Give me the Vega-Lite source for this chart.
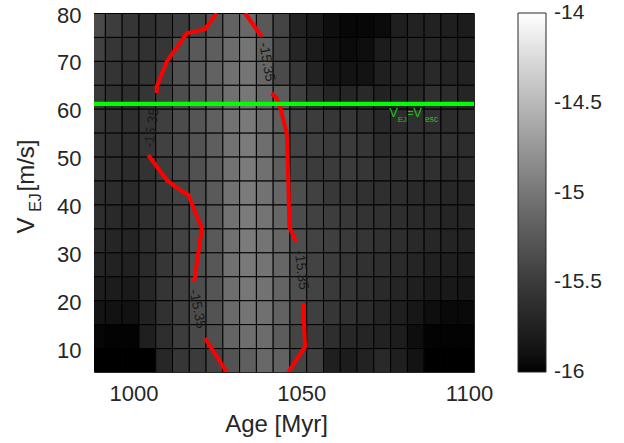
{
"$schema": "https://vega.github.io/schema/vega-lite/v6.json",
"width": 380, "height": 359,
"autosize": {"type": "none"},
"padding": {"left": 94, "top": 13, "right": 150, "bottom": 71},
"background": "white",
"config": {
 "view": {"stroke": "#262626", "strokeWidth": 1},
 "font": "Liberation Sans",
 "axis": {"grid": false, "ticks": false, "domain": false, "labelFont": "Liberation Sans", "titleFont": "Liberation Sans", "labelColor": "#262626", "titleColor": "#262626", "titleFontWeight": "normal", "labelFontSize": 22, "titleFontSize": 24}
},
"datasets": {
"grid": [
{"age":986.5,"vej":75,"z":-15.373},{"age":991.5,"vej":75,"z":-15.482},{"age":996.5,"vej":75,"z":-15.545},{"age":1001.5,"vej":75,"z":-15.608},{"age":1006.5,"vej":75,"z":-15.561},{"age":1011.5,"vej":75,"z":-15.482},{"age":1016.5,"vej":75,"z":-15.404},{"age":1021.5,"vej":75,"z":-15.294},{"age":1026.5,"vej":75,"z":-15.169},{"age":1031.5,"vej":75,"z":-15.122},{"age":1036.5,"vej":75,"z":-15.255},{"age":1041.5,"vej":75,"z":-15.42},{"age":1046.5,"vej":75,"z":-15.733},{"age":1051.5,"vej":75,"z":-15.812},{"age":1056.5,"vej":75,"z":-15.922},{"age":1061.5,"vej":75,"z":-15.961},{"age":1066.5,"vej":75,"z":-15.961},{"age":1071.5,"vej":75,"z":-15.937},{"age":1076.5,"vej":75,"z":-15.765},{"age":1081.5,"vej":75,"z":-15.733},{"age":1086.5,"vej":75,"z":-15.733},{"age":1091.5,"vej":75,"z":-15.765},{"age":1096.5,"vej":75,"z":-15.796},
{"age":986.5,"vej":70,"z":-15.451},{"age":991.5,"vej":70,"z":-15.545},{"age":996.5,"vej":70,"z":-15.569},{"age":1001.5,"vej":70,"z":-15.592},{"age":1006.5,"vej":70,"z":-15.545},{"age":1011.5,"vej":70,"z":-15.325},{"age":1016.5,"vej":70,"z":-15.247},{"age":1021.5,"vej":70,"z":-15.2},{"age":1026.5,"vej":70,"z":-15.09},{"age":1031.5,"vej":70,"z":-15.027},{"age":1036.5,"vej":70,"z":-15.184},{"age":1041.5,"vej":70,"z":-15.42},{"age":1046.5,"vej":70,"z":-15.702},{"age":1051.5,"vej":70,"z":-15.812},{"age":1056.5,"vej":70,"z":-15.898},{"age":1061.5,"vej":70,"z":-15.937},{"age":1066.5,"vej":70,"z":-15.922},{"age":1071.5,"vej":70,"z":-15.796},{"age":1076.5,"vej":70,"z":-15.733},{"age":1081.5,"vej":70,"z":-15.702},{"age":1086.5,"vej":70,"z":-15.702},{"age":1091.5,"vej":70,"z":-15.733},{"age":1096.5,"vej":70,"z":-15.765},
{"age":986.5,"vej":65,"z":-15.514},{"age":991.5,"vej":65,"z":-15.569},{"age":996.5,"vej":65,"z":-15.592},{"age":1001.5,"vej":65,"z":-15.561},{"age":1006.5,"vej":65,"z":-15.451},{"age":1011.5,"vej":65,"z":-15.31},{"age":1016.5,"vej":65,"z":-15.231},{"age":1021.5,"vej":65,"z":-15.169},{"age":1026.5,"vej":65,"z":-15.059},{"age":1031.5,"vej":65,"z":-15.012},{"age":1036.5,"vej":65,"z":-15.137},{"age":1041.5,"vej":65,"z":-15.373},{"age":1046.5,"vej":65,"z":-15.545},{"age":1051.5,"vej":65,"z":-15.733},{"age":1056.5,"vej":65,"z":-15.843},{"age":1061.5,"vej":65,"z":-15.882},{"age":1066.5,"vej":65,"z":-15.882},{"age":1071.5,"vej":65,"z":-15.765},{"age":1076.5,"vej":65,"z":-15.702},{"age":1081.5,"vej":65,"z":-15.702},{"age":1086.5,"vej":65,"z":-15.671},{"age":1091.5,"vej":65,"z":-15.702},{"age":1096.5,"vej":65,"z":-15.733},
{"age":986.5,"vej":60,"z":-15.529},{"age":991.5,"vej":60,"z":-15.592},{"age":996.5,"vej":60,"z":-15.608},{"age":1001.5,"vej":60,"z":-15.561},{"age":1006.5,"vej":60,"z":-15.482},{"age":1011.5,"vej":60,"z":-15.341},{"age":1016.5,"vej":60,"z":-15.263},{"age":1021.5,"vej":60,"z":-15.184},{"age":1026.5,"vej":60,"z":-15.059},{"age":1031.5,"vej":60,"z":-14.996},{"age":1036.5,"vej":60,"z":-15.122},{"age":1041.5,"vej":60,"z":-15.216},{"age":1046.5,"vej":60,"z":-15.467},{"age":1051.5,"vej":60,"z":-15.6},{"age":1056.5,"vej":60,"z":-15.702},{"age":1061.5,"vej":60,"z":-15.702},{"age":1066.5,"vej":60,"z":-15.671},{"age":1071.5,"vej":60,"z":-15.733},{"age":1076.5,"vej":60,"z":-15.702},{"age":1081.5,"vej":60,"z":-15.671},{"age":1086.5,"vej":60,"z":-15.6},{"age":1091.5,"vej":60,"z":-15.639},{"age":1096.5,"vej":60,"z":-15.702},
{"age":986.5,"vej":55,"z":-15.545},{"age":991.5,"vej":55,"z":-15.592},{"age":996.5,"vej":55,"z":-15.608},{"age":1001.5,"vej":55,"z":-15.545},{"age":1006.5,"vej":55,"z":-15.467},{"age":1011.5,"vej":55,"z":-15.357},{"age":1016.5,"vej":55,"z":-15.278},{"age":1021.5,"vej":55,"z":-15.184},{"age":1026.5,"vej":55,"z":-15.043},{"age":1031.5,"vej":55,"z":-14.98},{"age":1036.5,"vej":55,"z":-15.09},{"age":1041.5,"vej":55,"z":-15.2},{"age":1046.5,"vej":55,"z":-15.42},{"age":1051.5,"vej":55,"z":-15.498},{"age":1056.5,"vej":55,"z":-15.545},{"age":1061.5,"vej":55,"z":-15.545},{"age":1066.5,"vej":55,"z":-15.6},{"age":1071.5,"vej":55,"z":-15.671},{"age":1076.5,"vej":55,"z":-15.639},{"age":1081.5,"vej":55,"z":-15.6},{"age":1086.5,"vej":55,"z":-15.6},{"age":1091.5,"vej":55,"z":-15.639},{"age":1096.5,"vej":55,"z":-15.639},
{"age":986.5,"vej":50,"z":-15.561},{"age":991.5,"vej":50,"z":-15.608},{"age":996.5,"vej":50,"z":-15.624},{"age":1001.5,"vej":50,"z":-15.561},{"age":1006.5,"vej":50,"z":-15.451},{"age":1011.5,"vej":50,"z":-15.373},{"age":1016.5,"vej":50,"z":-15.294},{"age":1021.5,"vej":50,"z":-15.2},{"age":1026.5,"vej":50,"z":-15.043},{"age":1031.5,"vej":50,"z":-14.965},{"age":1036.5,"vej":50,"z":-15.075},{"age":1041.5,"vej":50,"z":-15.2},{"age":1046.5,"vej":50,"z":-15.42},{"age":1051.5,"vej":50,"z":-15.467},{"age":1056.5,"vej":50,"z":-15.506},{"age":1061.5,"vej":50,"z":-15.506},{"age":1066.5,"vej":50,"z":-15.545},{"age":1071.5,"vej":50,"z":-15.639},{"age":1076.5,"vej":50,"z":-15.6},{"age":1081.5,"vej":50,"z":-15.6},{"age":1086.5,"vej":50,"z":-15.6},{"age":1091.5,"vej":50,"z":-15.6},{"age":1096.5,"vej":50,"z":-15.639},
{"age":986.5,"vej":45,"z":-15.576},{"age":991.5,"vej":45,"z":-15.624},{"age":996.5,"vej":45,"z":-15.639},{"age":1001.5,"vej":45,"z":-15.576},{"age":1006.5,"vej":45,"z":-15.482},{"age":1011.5,"vej":45,"z":-15.388},{"age":1016.5,"vej":45,"z":-15.31},{"age":1021.5,"vej":45,"z":-15.216},{"age":1026.5,"vej":45,"z":-15.043},{"age":1031.5,"vej":45,"z":-14.965},{"age":1036.5,"vej":45,"z":-15.059},{"age":1041.5,"vej":45,"z":-15.2},{"age":1046.5,"vej":45,"z":-15.42},{"age":1051.5,"vej":45,"z":-15.506},{"age":1056.5,"vej":45,"z":-15.506},{"age":1061.5,"vej":45,"z":-15.506},{"age":1066.5,"vej":45,"z":-15.545},{"age":1071.5,"vej":45,"z":-15.6},{"age":1076.5,"vej":45,"z":-15.6},{"age":1081.5,"vej":45,"z":-15.6},{"age":1086.5,"vej":45,"z":-15.6},{"age":1091.5,"vej":45,"z":-15.639},{"age":1096.5,"vej":45,"z":-15.639},
{"age":986.5,"vej":40,"z":-15.608},{"age":991.5,"vej":40,"z":-15.639},{"age":996.5,"vej":40,"z":-15.655},{"age":1001.5,"vej":40,"z":-15.592},{"age":1006.5,"vej":40,"z":-15.514},{"age":1011.5,"vej":40,"z":-15.42},{"age":1016.5,"vej":40,"z":-15.325},{"age":1021.5,"vej":40,"z":-15.231},{"age":1026.5,"vej":40,"z":-15.043},{"age":1031.5,"vej":40,"z":-14.965},{"age":1036.5,"vej":40,"z":-15.043},{"age":1041.5,"vej":40,"z":-15.137},{"age":1046.5,"vej":40,"z":-15.333},{"age":1051.5,"vej":40,"z":-15.451},{"age":1056.5,"vej":40,"z":-15.529},{"age":1061.5,"vej":40,"z":-15.561},{"age":1066.5,"vej":40,"z":-15.592},{"age":1071.5,"vej":40,"z":-15.608},{"age":1076.5,"vej":40,"z":-15.624},{"age":1081.5,"vej":40,"z":-15.655},{"age":1086.5,"vej":40,"z":-15.671},{"age":1091.5,"vej":40,"z":-15.686},{"age":1096.5,"vej":40,"z":-15.702},
{"age":986.5,"vej":35,"z":-15.624},{"age":991.5,"vej":35,"z":-15.671},{"age":996.5,"vej":35,"z":-15.686},{"age":1001.5,"vej":35,"z":-15.608},{"age":1006.5,"vej":35,"z":-15.529},{"age":1011.5,"vej":35,"z":-15.435},{"age":1016.5,"vej":35,"z":-15.325},{"age":1021.5,"vej":35,"z":-15.247},{"age":1026.5,"vej":35,"z":-15.043},{"age":1031.5,"vej":35,"z":-14.965},{"age":1036.5,"vej":35,"z":-15.027},{"age":1041.5,"vej":35,"z":-15.137},{"age":1046.5,"vej":35,"z":-15.357},{"age":1051.5,"vej":35,"z":-15.451},{"age":1056.5,"vej":35,"z":-15.482},{"age":1061.5,"vej":35,"z":-15.529},{"age":1066.5,"vej":35,"z":-15.576},{"age":1071.5,"vej":35,"z":-15.592},{"age":1076.5,"vej":35,"z":-15.624},{"age":1081.5,"vej":35,"z":-15.655},{"age":1086.5,"vej":35,"z":-15.671},{"age":1091.5,"vej":35,"z":-15.702},{"age":1096.5,"vej":35,"z":-15.702},
{"age":986.5,"vej":30,"z":-15.655},{"age":991.5,"vej":30,"z":-15.702},{"age":996.5,"vej":30,"z":-15.718},{"age":1001.5,"vej":30,"z":-15.639},{"age":1006.5,"vej":30,"z":-15.545},{"age":1011.5,"vej":30,"z":-15.435},{"age":1016.5,"vej":30,"z":-15.325},{"age":1021.5,"vej":30,"z":-15.247},{"age":1026.5,"vej":30,"z":-15.059},{"age":1031.5,"vej":30,"z":-14.965},{"age":1036.5,"vej":30,"z":-15.027},{"age":1041.5,"vej":30,"z":-15.137},{"age":1046.5,"vej":30,"z":-15.333},{"age":1051.5,"vej":30,"z":-15.435},{"age":1056.5,"vej":30,"z":-15.467},{"age":1061.5,"vej":30,"z":-15.514},{"age":1066.5,"vej":30,"z":-15.561},{"age":1071.5,"vej":30,"z":-15.592},{"age":1076.5,"vej":30,"z":-15.624},{"age":1081.5,"vej":30,"z":-15.671},{"age":1086.5,"vej":30,"z":-15.686},{"age":1091.5,"vej":30,"z":-15.718},{"age":1096.5,"vej":30,"z":-15.733},
{"age":986.5,"vej":25,"z":-15.702},{"age":991.5,"vej":25,"z":-15.733},{"age":996.5,"vej":25,"z":-15.749},{"age":1001.5,"vej":25,"z":-15.655},{"age":1006.5,"vej":25,"z":-15.545},{"age":1011.5,"vej":25,"z":-15.435},{"age":1016.5,"vej":25,"z":-15.325},{"age":1021.5,"vej":25,"z":-15.263},{"age":1026.5,"vej":25,"z":-15.059},{"age":1031.5,"vej":25,"z":-14.98},{"age":1036.5,"vej":25,"z":-15.027},{"age":1041.5,"vej":25,"z":-15.137},{"age":1046.5,"vej":25,"z":-15.333},{"age":1051.5,"vej":25,"z":-15.435},{"age":1056.5,"vej":25,"z":-15.498},{"age":1061.5,"vej":25,"z":-15.545},{"age":1066.5,"vej":25,"z":-15.592},{"age":1071.5,"vej":25,"z":-15.624},{"age":1076.5,"vej":25,"z":-15.655},{"age":1081.5,"vej":25,"z":-15.702},{"age":1086.5,"vej":25,"z":-15.749},{"age":1091.5,"vej":25,"z":-15.765},{"age":1096.5,"vej":25,"z":-15.796},
{"age":986.5,"vej":20,"z":-15.78},{"age":991.5,"vej":20,"z":-15.796},{"age":996.5,"vej":20,"z":-15.812},{"age":1001.5,"vej":20,"z":-15.686},{"age":1006.5,"vej":20,"z":-15.561},{"age":1011.5,"vej":20,"z":-15.451},{"age":1016.5,"vej":20,"z":-15.341},{"age":1021.5,"vej":20,"z":-15.278},{"age":1026.5,"vej":20,"z":-15.075},{"age":1031.5,"vej":20,"z":-14.996},{"age":1036.5,"vej":20,"z":-15.043},{"age":1041.5,"vej":20,"z":-15.153},{"age":1046.5,"vej":20,"z":-15.333},{"age":1051.5,"vej":20,"z":-15.435},{"age":1056.5,"vej":20,"z":-15.514},{"age":1061.5,"vej":20,"z":-15.561},{"age":1066.5,"vej":20,"z":-15.608},{"age":1071.5,"vej":20,"z":-15.655},{"age":1076.5,"vej":20,"z":-15.702},{"age":1081.5,"vej":20,"z":-15.765},{"age":1086.5,"vej":20,"z":-15.812},{"age":1091.5,"vej":20,"z":-15.827},{"age":1096.5,"vej":20,"z":-15.859},
{"age":986.5,"vej":15,"z":-15.875},{"age":991.5,"vej":15,"z":-15.89},{"age":996.5,"vej":15,"z":-15.89},{"age":1001.5,"vej":15,"z":-15.733},{"age":1006.5,"vej":15,"z":-15.592},{"age":1011.5,"vej":15,"z":-15.467},{"age":1016.5,"vej":15,"z":-15.357},{"age":1021.5,"vej":15,"z":-15.294},{"age":1026.5,"vej":15,"z":-15.106},{"age":1031.5,"vej":15,"z":-15.027},{"age":1036.5,"vej":15,"z":-15.059},{"age":1041.5,"vej":15,"z":-15.169},{"age":1046.5,"vej":15,"z":-15.373},{"age":1051.5,"vej":15,"z":-15.467},{"age":1056.5,"vej":15,"z":-15.545},{"age":1061.5,"vej":15,"z":-15.592},{"age":1066.5,"vej":15,"z":-15.639},{"age":1071.5,"vej":15,"z":-15.702},{"age":1076.5,"vej":15,"z":-15.765},{"age":1081.5,"vej":15,"z":-15.843},{"age":1086.5,"vej":15,"z":-15.922},{"age":1091.5,"vej":15,"z":-15.953},{"age":1096.5,"vej":15,"z":-15.953},
{"age":986.5,"vej":10,"z":-15.969},{"age":991.5,"vej":10,"z":-15.984},{"age":996.5,"vej":10,"z":-15.984},{"age":1001.5,"vej":10,"z":-15.765},{"age":1006.5,"vej":10,"z":-15.624},{"age":1011.5,"vej":10,"z":-15.498},{"age":1016.5,"vej":10,"z":-15.388},{"age":1021.5,"vej":10,"z":-15.325},{"age":1026.5,"vej":10,"z":-15.153},{"age":1031.5,"vej":10,"z":-15.075},{"age":1036.5,"vej":10,"z":-15.09},{"age":1041.5,"vej":10,"z":-15.216},{"age":1046.5,"vej":10,"z":-15.42},{"age":1051.5,"vej":10,"z":-15.514},{"age":1056.5,"vej":10,"z":-15.624},{"age":1061.5,"vej":10,"z":-15.686},{"age":1066.5,"vej":10,"z":-15.702},{"age":1071.5,"vej":10,"z":-15.733},{"age":1076.5,"vej":10,"z":-15.78},{"age":1081.5,"vej":10,"z":-15.922},{"age":1086.5,"vej":10,"z":-15.984},{"age":1091.5,"vej":10,"z":-15.984},{"age":1096.5,"vej":10,"z":-15.984},
{"age":986.5,"vej":5,"z":-16},{"age":991.5,"vej":5,"z":-16},{"age":996.5,"vej":5,"z":-16},{"age":1001.5,"vej":5,"z":-16},{"age":1006.5,"vej":5,"z":-15.686},{"age":1011.5,"vej":5,"z":-15.545},{"age":1016.5,"vej":5,"z":-15.506},{"age":1021.5,"vej":5,"z":-15.42},{"age":1026.5,"vej":5,"z":-15.294},{"age":1031.5,"vej":5,"z":-15.2},{"age":1036.5,"vej":5,"z":-15.122},{"age":1041.5,"vej":5,"z":-15.169},{"age":1046.5,"vej":5,"z":-15.42},{"age":1051.5,"vej":5,"z":-15.467},{"age":1056.5,"vej":5,"z":-15.765},{"age":1061.5,"vej":5,"z":-15.796},{"age":1066.5,"vej":5,"z":-15.733},{"age":1071.5,"vej":5,"z":-15.671},{"age":1076.5,"vej":5,"z":-15.765},{"age":1081.5,"vej":5,"z":-15.882},{"age":1086.5,"vej":5,"z":-16},{"age":1091.5,"vej":5,"z":-16},{"age":1096.5,"vej":5,"z":-16}
],
"contour": [
{"age":1024.82,"vej":80,"seg":"L1","ord":1},{"age":1021.33,"vej":76.6,"seg":"L1","ord":2},{"age":1015.88,"vej":75.76,"seg":"L1","ord":3},{"age":1009.92,"vej":69.83,"seg":"L1","ord":4},{"age":1006.94,"vej":64.6,"seg":"L1","ord":5},{"age":1006.94,"vej":63.3,"seg":"L1","ord":6},
{"age":1004.43,"vej":50.34,"seg":"L2","ord":1},{"age":1009.92,"vej":45.11,"seg":"L2","ord":2},{"age":1013.88,"vej":43.02,"seg":"L2","ord":3},{"age":1016.36,"vej":41.98,"seg":"L2","ord":4},{"age":1020.35,"vej":35.02,"seg":"L2","ord":5},{"age":1018.35,"vej":24.91,"seg":"L2","ord":6},{"age":1018.06,"vej":23.87,"seg":"L2","ord":7},
{"age":1021.33,"vej":12.05,"seg":"L3","ord":1},{"age":1027.8,"vej":5,"seg":"L3","ord":2},
{"age":1033.26,"vej":80,"seg":"R1","ord":1},{"age":1038.24,"vej":75.05,"seg":"R1","ord":2},
{"age":1041.22,"vej":63.23,"seg":"R2","ord":1},{"age":1042.71,"vej":62.18,"seg":"R2","ord":2},{"age":1043.69,"vej":60.43,"seg":"R2","ord":3},{"age":1045.69,"vej":54.87,"seg":"R2","ord":4},{"age":1046.16,"vej":45.11,"seg":"R2","ord":5},{"age":1046.46,"vej":35.36,"seg":"R2","ord":6},{"age":1048.46,"vej":32.22,"seg":"R2","ord":7},
{"age":1050.63,"vej":19.36,"seg":"R3","ord":1},{"age":1051.14,"vej":10.29,"seg":"R3","ord":2},{"age":1046.16,"vej":5,"seg":"R3","ord":3}
]
},
"layer": [
{
 "data": {"name": "grid"},
 "mark": {"type": "rect", "stroke": "#000000", "strokeWidth": 1, "clip": true, "binSpacing": 0},
 "encoding": {
  "x": {"field": "age", "type": "quantitative", "bin": {"binned": true, "step": 5}, "scale": {"domain": [988.25, 1101.5], "nice": false, "zero": false}, "axis": {"orient": "bottom", "values": [1000, 1050, 1100], "format": "d", "title": "Age [Myr]", "labelPadding": 11, "titleX": 182, "titleY": 59, "titleAlign": "center", "titleBaseline": "alphabetic"}},
  "y": {"field": "vej", "type": "quantitative", "bin": {"binned": true, "step": 5}, "scale": {"domain": [5, 80], "nice": false, "zero": false}, "axis": {"orient": "left", "values": [10, 20, 30, 40, 50, 60, 70, 80], "format": "d", "labelPadding": 13, "labelOffset": 2, "title": "[m/s]", "titleX": -61, "titleY": 152, "titleAngle": 270, "titleAlign": "center", "titleBaseline": "alphabetic"}},
  "color": {"field": "z", "type": "quantitative", "scale": {"domain": [-16, -14], "range": ["#000000", "#ffffff"], "clamp": true}, "legend": {"orient": "none", "direction": "vertical", "legendX": 424, "legendY": 0, "title": null, "gradientLength": 359, "gradientThickness": 28, "values": [-16, -15.5, -15, -14.5, -14], "labelExpr": "datum.value + ''", "labelFont": "Liberation Sans", "labelFontSize": 21, "labelColor": "#262626", "labelOffset": 8, "gradientStrokeColor": "#262626", "gradientStrokeWidth": 1, "encode": {"labels": {"enter": {"baseline": {"value": "middle"}}, "update": {"baseline": {"value": "middle"}}}}}}
 }
},
{
 "data": {"name": "contour"},
 "mark": {"type": "line", "color": "#ff0000", "strokeWidth": 4, "clip": true},
 "encoding": {
  "x": {"field": "age", "type": "quantitative", "title": "Age [Myr]"},
  "y": {"field": "vej", "type": "quantitative", "axis": {"orient": "left", "labels": false, "title": "V", "titleX": -61, "titleY": 212, "titleAngle": 270, "titleAlign": "center", "titleBaseline": "alphabetic"}},
  "detail": {"field": "seg", "type": "nominal"},
  "order": {"field": "ord", "type": "quantitative"}
 }
},
{
 "data": {"values": [{}]},
 "mark": {"type": "rule", "color": "#00ff00", "strokeWidth": 4.3},
 "encoding": {
  "y": {"datum": 61, "type": "quantitative", "axis": {"orient": "left", "labels": false, "title": "EJ", "titleFontSize": 16, "titleX": -54, "titleY": 189, "titleAngle": 270, "titleAlign": "center", "titleBaseline": "alphabetic"}}
 }
},
{"data": {"values": [{}]}, "mark": {"type": "text", "text": "-15.35", "angle": 278, "fontSize": 14, "color": "#1a1a1a", "align": "center", "baseline": "middle"}, "encoding": {"x": {"datum": 1005.54, "type": "quantitative", "title": "Age [Myr]"}, "y": {"datum": 55.98, "type": "quantitative", "axis": null}}},
{"data": {"values": [{}]}, "mark": {"type": "text", "text": "-15.35", "angle": 80, "fontSize": 14, "color": "#1a1a1a", "align": "center", "baseline": "middle"}, "encoding": {"x": {"datum": 1039.67, "type": "quantitative", "title": "Age [Myr]"}, "y": {"datum": 69.76, "type": "quantitative", "axis": null}}},
{"data": {"values": [{}]}, "mark": {"type": "text", "text": "-15.35", "angle": 79, "fontSize": 14, "color": "#1a1a1a", "align": "center", "baseline": "middle"}, "encoding": {"x": {"datum": 1018.95, "type": "quantitative", "title": "Age [Myr]"}, "y": {"datum": 18.17, "type": "quantitative", "axis": null}}},
{"data": {"values": [{}]}, "mark": {"type": "text", "text": "-15.35", "angle": 83, "fontSize": 14, "color": "#1a1a1a", "align": "center", "baseline": "middle"}, "encoding": {"x": {"datum": 1049.95, "type": "quantitative", "title": "Age [Myr]"}, "y": {"datum": 26.31, "type": "quantitative", "axis": null}}},
{"data": {"values": [{}]}, "mark": {"type": "text", "text": "V", "fontSize": 13, "color": "#20c020", "align": "left", "baseline": "alphabetic"}, "encoding": {"x": {"datum": 1076.27, "type": "quantitative", "title": "Age [Myr]"}, "y": {"datum": 58.21, "type": "quantitative", "axis": null}}},
{"data": {"values": [{}]}, "mark": {"type": "text", "text": "EJ", "fontSize": 8, "color": "#20c020", "align": "left", "baseline": "alphabetic"}, "encoding": {"x": {"datum": 1078.77, "type": "quantitative", "title": "Age [Myr]"}, "y": {"datum": 57.29, "type": "quantitative", "axis": null}}},
{"data": {"values": [{}]}, "mark": {"type": "text", "text": "=", "fontSize": 10, "color": "#20c020", "align": "left", "baseline": "alphabetic"}, "encoding": {"x": {"datum": 1081.7, "type": "quantitative", "title": "Age [Myr]"}, "y": {"datum": 58.21, "type": "quantitative", "axis": null}}},
{"data": {"values": [{}]}, "mark": {"type": "text", "text": "V", "fontSize": 13, "color": "#20c020", "align": "left", "baseline": "alphabetic"}, "encoding": {"x": {"datum": 1083.4, "type": "quantitative", "title": "Age [Myr]"}, "y": {"datum": 58.21, "type": "quantitative", "axis": null}}},
{"data": {"values": [{}]}, "mark": {"type": "text", "text": "esc", "fontSize": 8.5, "color": "#20c020", "align": "left", "baseline": "alphabetic"}, "encoding": {"x": {"datum": 1086.91, "type": "quantitative", "title": "Age [Myr]"}, "y": {"datum": 57.17, "type": "quantitative", "axis": null}}}
],
"resolve": {"axis": {"y": "independent"}}
}
